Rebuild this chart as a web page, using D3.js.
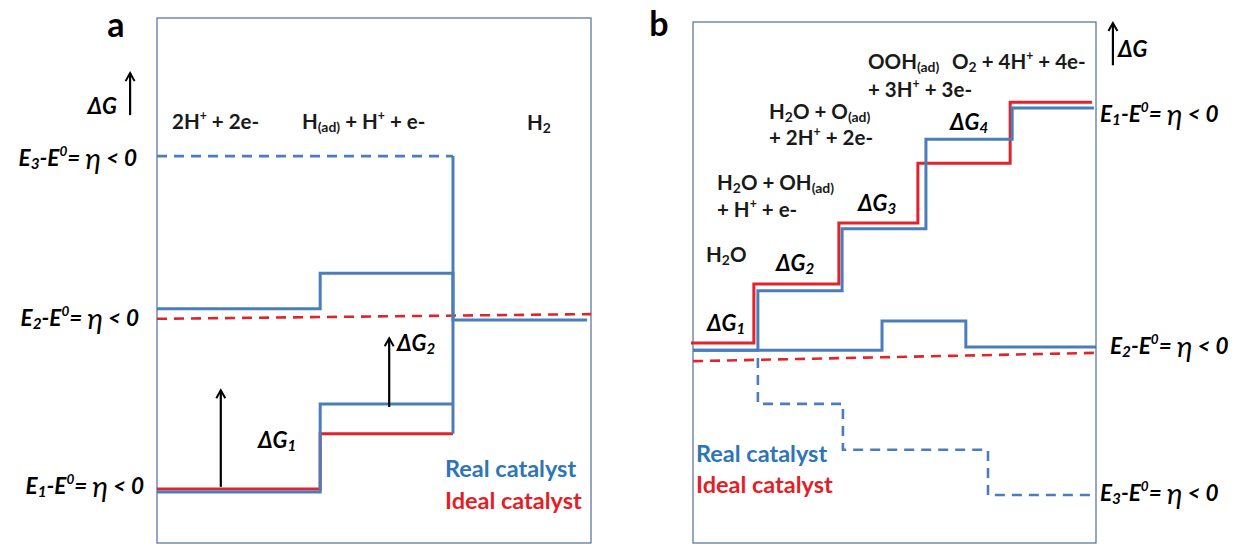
<!DOCTYPE html>
<html>
<head>
<meta charset="utf-8">
<script src="https://cdn.jsdelivr.net/npm/d3@7"></script>
<style>
  body { margin: 0; background: #fff; }
  svg { display: block; font-family: Lato, "Open Sans", sans-serif; }
  .frame { fill: none; stroke: #4f6d9a; stroke-width: 1.2; }
  .real { fill: none; stroke: #4a7ebb; stroke-width: 3; }
  .ideal { fill: none; stroke: #e3232a; stroke-width: 3; }
  .dash { stroke-dasharray: 10 7; stroke-width: 2.6; }
  .arrow { stroke: #000; stroke-width: 2.2; fill: none; }
  .species { font-size: 20.5px; font-weight: bold; fill: #1a1a1a; }
  .elabel { font-size: 22.5px; font-weight: bold; font-style: italic; fill: #000; }
  .dg { font-size: 22px; font-weight: bold; font-style: italic; fill: #000; }
  .panel { font-size: 34px; font-weight: bold; fill: #000; }
  .legend { font-size: 23.5px; font-weight: bold; }
</style>
</head>
<body>
<div id="chart"></div>
<script>
/*##############################
#   Data (arbitrary ΔG units,  #
#   0-100 across each frame)   #
###############################*/

// panel a : hydrogen evolution
var aSpecies = ["2H+ + 2e-", "H(ad) + H+ + e-", "H2"];
var aStepX = [0, 37.6, 68.2];
var aIdealLow = [10.3, 20.8];        // ideal catalyst at E1
var aRealLow = [9.7, 26.5];          // real catalyst at E1
var aRealMidX = [0, 37.6, 68.2, 99.1];
var aRealMid = [44.6, 51.4, 42.5];   // real catalyst at E2
var aIdealDash = [42.7, 43.6];       // ideal catalyst at E2 (left, right)
var aRealTop = [73.7];               // real catalyst at E3
var aArrows = [[14.7, 10.7, 29.1], [53.5, 25.9, 39.0], [-6.2, 81.5, 89.5]];

// panel b : oxygen evolution
var bSpecies = ["H2O", "H2O + OH(ad) + H+ + e-", "H2O + O(ad) + 2H+ + 2e-", "OOH(ad) + 3H+ + 3e-", "O2 + 4H+ + 4e-"];
var bIdealX = [-0.5, 15.1, 36.2, 55.8, 78.7, 99.0];
var bIdeal = [38.4, 49.7, 61.4, 72.9, 84.6];
var bRealX = [0, 16.1, 37.0, 57.8, 79.2, 99.5];
var bReal = [37.0, 48.4, 60.3, 77.5, 83.5];
var bRealE2X = [0, 46.9, 67.7, 100];
var bRealE2 = [37.0, 42.6, 37.6];
var bRealE3X = [16.1, 16.1, 37.2, 73.2, 100];
var bRealE3 = [35.5, 26.7, 17.9, 9.2];
var bIdealDash = [34.9, 36.5];
var bArrows = [[104.2, 91.7, 99.8]];

var legendLabels = ["Real catalyst", "Ideal catalyst"];

/*##############################
#        Drawing               #
###############################*/

var svg = d3.select("#chart").append("svg")
    .attr("width", 1240)
    .attr("height", 547);

// open arrow head, tip at the end of the line
svg.append("defs").append("marker")
    .attr("id", "head")
    .attr("viewBox", "-10 -6 12 12")
    .attr("refX", 0).attr("refY", 0)
    .attr("markerWidth", 12).attr("markerHeight", 12)
    .attr("markerUnits", "userSpaceOnUse")
    .attr("orient", "auto")
    .append("path")
    .attr("d", "M-8,-4.5 L0,0 L-8,4.5")
    .attr("fill", "none").attr("stroke", "#000").attr("stroke-width", 2);

// text with sub/superscripts: parts are strings or [string, "sub"|"sup"|"big"]
function rich(g, x, y, parts, cls, anchor) {
    var t = g.append("text")
        .attr("x", x).attr("y", y)
        .attr("class", cls)
        .attr("dominant-baseline", "central")
        .attr("text-anchor", anchor || "start");
    var fs = parseFloat(getComputedStyle(t.node()).fontSize);
    var cur = 0;
    parts.forEach(function(p) {
        var s = typeof p === "string" ? p : p[0];
        var mode = typeof p === "string" ? "" : p[1];
        var target = mode === "sub" ? 0.26 * fs : mode === "sup" ? -0.28 * fs : 0;
        var ts = t.append("tspan").text(s).attr("dy", target - cur);
        if (mode === "sub") ts.attr("font-size", (0.68 * fs) + "px");
        if (mode === "sup") ts.attr("font-size", (0.6 * fs) + "px");
        if (mode === "big") ts.attr("font-size", (1.3 * fs) + "px").attr("font-weight", "normal");
        cur = target;
    });
    return t;
}

function stepLine(xs, ys) {
    var pts = ys.map(function(v, i) { return [xs[i], v]; });
    pts.push([xs[xs.length - 1], ys[ys.length - 1]]);
    return pts;
}

function eLabel(g, x, y, n, anchor) {
    return rich(g, x, y, ["E", [n, "sub"], "-E", ["0", "sup"], "= ", ["η", "big"], " < 0"], "elabel", anchor);
}

function dgLabel(g, x, y, n) {
    return rich(g, x, y, ["ΔG", [n, "sub"]], "dg");
}

function drawArrows(g, list, x, y) {
    g.selectAll(null).data(list).enter().append("line")
        .attr("class", "arrow")
        .attr("x1", function(d) { return x(d[0]); })
        .attr("x2", function(d) { return x(d[0]); })
        .attr("y1", function(d) { return y(d[1]); })
        .attr("y2", function(d) { return y(d[2]); })
        .attr("marker-end", "url(#head)");
}

/*----------- panel a -----------*/
var ax = d3.scaleLinear().domain([0, 100]).range([157, 591]);
var ay = d3.scaleLinear().domain([0, 100]).range([543, 18]);
var ga = svg.append("g");
var lineA = d3.line().x(function(d) { return ax(d[0]); }).y(function(d) { return ay(d[1]); });
var stepA = d3.line().curve(d3.curveStepAfter).x(function(d) { return ax(d[0]); }).y(function(d) { return ay(d[1]); });

ga.append("rect").attr("class", "frame")
    .attr("x", ax(0)).attr("y", ay(100))
    .attr("width", ax(100) - ax(0)).attr("height", ay(0) - ay(100));

ga.append("path").attr("class", "ideal dash")
    .attr("d", lineA([[0, aIdealDash[0]], [100, aIdealDash[1]]]));
ga.append("path").attr("class", "real dash")
    .attr("d", lineA([[0, aRealTop[0]], [aStepX[2], aRealTop[0]]]));
ga.append("path").attr("class", "ideal").attr("d", stepA(stepLine(aStepX, aIdealLow)));
ga.append("path").attr("class", "real").attr("d", stepA(stepLine(aStepX, aRealLow)));
ga.append("path").attr("class", "real").attr("d", stepA(stepLine(aRealMidX, aRealMid)));
ga.append("path").attr("class", "real")
    .attr("d", lineA([[aStepX[2], aRealTop[0]], [aStepX[2], aIdealLow[1]]]));

drawArrows(ga, aArrows, ax, ay);

ga.append("text").attr("class", "panel").attr("x", 116).attr("y", 23)
    .attr("text-anchor", "middle").attr("dominant-baseline", "central").text("a");
rich(ga, 117, 105, ["ΔG"], "dg", "end");

rich(ga, 172, 121, ["2H", ["+", "sup"], " + 2e-"], "species");
rich(ga, 302, 121, ["H", ["(ad)", "sub"], " + H", ["+", "sup"], " + e-"], "species");
rich(ga, 527, 122, ["H", ["2", "sub"]], "species");

eLabel(ga, 137, 157, "3", "end");
eLabel(ga, 139, 317, "2", "end");
eLabel(ga, 144, 485, "1", "end");

dgLabel(ga, 397, 342, "2");
dgLabel(ga, 258, 439, "1");

ga.append("text").attr("class", "legend").attr("x", 445).attr("y", 468)
    .attr("dominant-baseline", "central").attr("fill", "#2e75b6").text(legendLabels[0]);
ga.append("text").attr("class", "legend").attr("x", 445).attr("y", 500)
    .attr("dominant-baseline", "central").attr("fill", "#e41e26").text(legendLabels[1]);

/*----------- panel b -----------*/
var bx = d3.scaleLinear().domain([0, 100]).range([693, 1096]);
var by = d3.scaleLinear().domain([0, 100]).range([543, 22]);
var gb = svg.append("g");
var lineB = d3.line().x(function(d) { return bx(d[0]); }).y(function(d) { return by(d[1]); });
var stepB = d3.line().curve(d3.curveStepAfter).x(function(d) { return bx(d[0]); }).y(function(d) { return by(d[1]); });

gb.append("rect").attr("class", "frame")
    .attr("x", bx(0)).attr("y", by(100))
    .attr("width", bx(100) - bx(0)).attr("height", by(0) - by(100));

gb.append("path").attr("class", "ideal dash")
    .attr("d", lineB([[0, bIdealDash[0]], [100, bIdealDash[1]]]));
gb.append("path").attr("class", "real dash").attr("d", stepB(stepLine(bRealE3X, bRealE3)));
gb.append("path").attr("class", "real").attr("d", stepB(stepLine(bRealE2X, bRealE2)));
gb.append("path").attr("class", "ideal").attr("d", stepB(stepLine(bIdealX, bIdeal)));
gb.append("path").attr("class", "real").attr("d", stepB(stepLine(bRealX, bReal)));

drawArrows(gb, bArrows, bx, by);

gb.append("text").attr("class", "panel").attr("x", 659).attr("y", 22)
    .attr("text-anchor", "middle").attr("dominant-baseline", "central").text("b");
rich(gb, 1118, 48, ["ΔG"], "dg");

rich(gb, 868, 61, ["OOH", ["(ad)", "sub"]], "species");
rich(gb, 952, 61, ["O", ["2", "sub"], " + 4H", ["+", "sup"], " + 4e-"], "species");
rich(gb, 868, 89, ["+ 3H", ["+", "sup"], " + 3e-"], "species");
rich(gb, 769, 111, ["H", ["2", "sub"], "O + O", ["(ad)", "sub"]], "species");
rich(gb, 769, 137, ["+ 2H", ["+", "sup"], " + 2e-"], "species");
rich(gb, 717, 182, ["H", ["2", "sub"], "O + OH", ["(ad)", "sub"]], "species");
rich(gb, 717, 209, ["+ H", ["+", "sup"], " + e-"], "species");
rich(gb, 706, 254, ["H", ["2", "sub"], "O"], "species");

dgLabel(gb, 950, 121, "4");
dgLabel(gb, 858, 202, "3");
dgLabel(gb, 776, 262, "2");
dgLabel(gb, 707, 322, "1");

eLabel(gb, 1100, 113, "1");
eLabel(gb, 1110, 345, "2");
eLabel(gb, 1100, 492, "3");

gb.append("text").attr("class", "legend").attr("x", 696).attr("y", 453)
    .attr("dominant-baseline", "central").attr("fill", "#2e75b6").text(legendLabels[0]);
gb.append("text").attr("class", "legend").attr("x", 696).attr("y", 484)
    .attr("dominant-baseline", "central").attr("fill", "#e41e26").text(legendLabels[1]);
</script>
</body>
</html>
